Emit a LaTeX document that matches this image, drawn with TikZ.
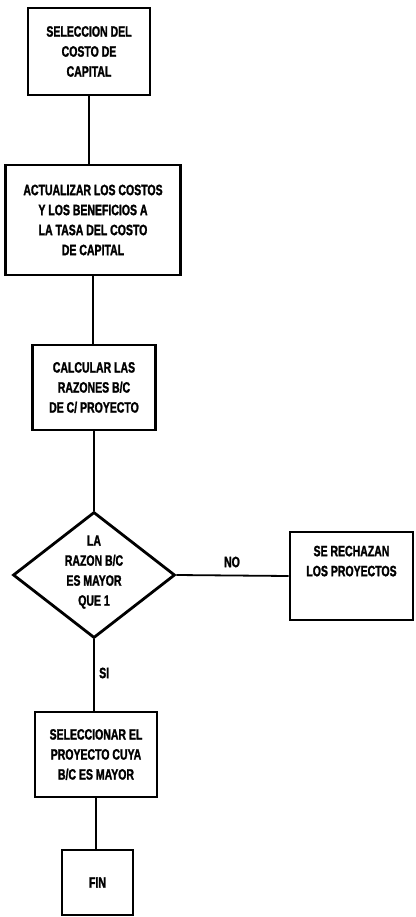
\documentclass[tikz,border=0pt]{standalone}
\usepackage{fontspec}
\newfontfamily\flowfont[FakeStretch=0.7, BoldFeatures={FakeBold=1.5}]{Liberation Sans}
\usetikzlibrary{shapes.geometric}
\tikzset{
  box/.style={draw=black, line width=2.8pt, rectangle, inner sep=0pt, align=center,
    font=\flowfont\bfseries\fontsize{15}{20}\selectfont},
  decision/.style={draw=black, line width=2.8pt, diamond, inner sep=0pt,
    minimum width=162pt, minimum height=126pt},
  txt/.style={align=center, inner sep=0pt, font=\flowfont\bfseries\fontsize{15}{20}\selectfont},
  conn/.style={draw=black, line width=1.8pt}
}
\begin{document}
\begin{tikzpicture}[x=1pt,y=-1pt]
\useasboundingbox[fill=white] (0,0) rectangle (415,917);
\node[box, minimum width=122pt, minimum height=87pt] (b1) at (89,51.5)
  {SELECCION DEL\\COSTO DE\\CAPITAL};
\node[box, minimum width=175pt, minimum height=110pt] (b2) at (93,220)
  {ACTUALIZAR LOS COSTOS\\Y LOS BENEFICIOS A\\LA TASA DEL COSTO\\DE CAPITAL};
\node[box, minimum width=123pt, minimum height=85pt] (b3) at (94,387.5)
  {CALCULAR LAS\\RAZONES B/C\\DE C/ PROYECTO};
\node[decision] (dec) at (94,575) {};
\node[txt] (dectext) at (94,572) {LA\\RAZON B/C\\ES MAYOR\\QUE 1};
\node[box, minimum width=123pt, minimum height=88pt] (rej) at (351.5,576)
  {SE RECHAZAN\\LOS PROYECTOS\\[10pt]};
\node[box, minimum width=122pt, minimum height=85pt] (b5) at (96,754.5)
  {SELECCIONAR EL\\PROYECTO CUYA\\B/C ES MAYOR};
\node[box, minimum width=71pt, minimum height=65pt] (fin) at (97.5,882.5) {FIN};
\node[txt] (no) at (232,562) {NO};
\node[txt, anchor=west] (si) at (99,673) {SI};
\draw[conn] (b1.south) -- (b1.south |- b2.north);
\draw[conn] (b2.south) -- (b2.south |- b3.north);
\draw[conn] (b3.south) -- (dec.north);
\draw[conn] (dec.east) -- (rej.west);
\draw[conn] (dec.south) -- (dec.south |- b5.north);
\draw[conn] (b5.south) -- (b5.south |- fin.north);
\end{tikzpicture}
\end{document}
